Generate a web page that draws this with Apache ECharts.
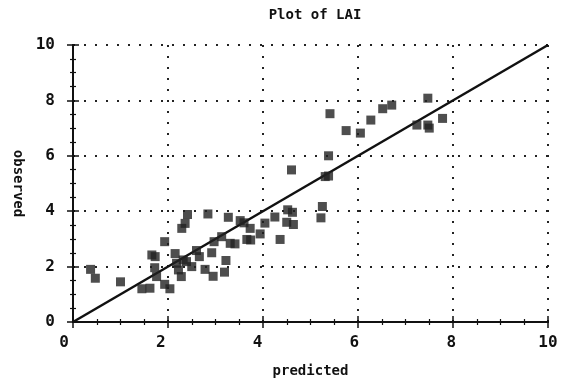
<!DOCTYPE html>
<html><head><meta charset="utf-8">
<script src="https://cdn.jsdelivr.net/npm/echarts@6/dist/echarts.min.js"></script>
<style>html,body{margin:0;padding:0;background:#fff}#c{width:565px;height:381px}</style>
</head><body><div id="c"></div>
<script>
const titleText = "Plot of LAI";
const xName = "predicted";
const yName = "observed";
const xTicks = [0, 2, 4, 6, 8, 10];
const yTicks = [0, 2, 4, 6, 8, 10];
const predicted = [0.37,0.47,1.00,1.45,1.62,1.66,1.73,1.72,1.76,1.93,1.93,2.04,2.15,2.18,2.22,2.28,2.29,2.36,2.41,2.32,2.39,2.50,2.60,2.66,2.78,2.84,2.92,2.95,2.97,3.13,3.22,3.19,3.27,3.31,3.41,3.52,3.60,3.66,3.73,3.74,3.94,4.04,4.25,4.36,4.52,4.62,4.50,4.64,4.60,5.22,5.25,5.31,5.38,5.38,5.41,5.75,6.05,6.27,6.52,6.71,7.24,7.47,7.47,7.50,7.78];
const observed  = [1.90,1.58,1.45,1.20,1.22,2.42,2.36,1.96,1.64,2.90,1.36,1.20,2.47,2.12,1.88,1.64,3.38,3.56,3.88,2.24,2.18,2.00,2.58,2.36,1.90,3.90,2.50,1.65,2.90,3.08,2.22,1.80,3.78,2.84,2.82,3.66,3.58,2.98,3.38,2.96,3.18,3.57,3.79,2.98,4.05,3.96,3.60,3.52,5.49,3.76,4.17,5.25,5.27,6.00,7.52,6.91,6.82,7.29,7.70,7.83,7.11,7.11,8.08,7.00,7.35];
const lineX = [0, 10];
const lineY = [0, 10];

const font = "'DejaVu Sans Mono', monospace";
const chart = echarts.init(document.getElementById('c'), null, {renderer:'canvas'});
const pts = predicted.map((x,i)=>[x, observed[i]]);
const axisCommon = {
  min: 0, max: 10, interval: 2,
  axisLine: {show:true, lineStyle:{color:'#111', width:2}},
  axisTick: {show:true, inside:true, length:6, lineStyle:{color:'#111', width:1.5}},
  minorTick: {show:true, splitNumber:4, length:3, lineStyle:{color:'#111', width:1.2}},
  splitLine: {show:false},
};
chart.setOption({
  animation:false,
  title:{text:titleText, left:310, top:3, textAlign:'center',
    textStyle:{fontFamily:font, fontWeight:'bold', fontSize:14, color:'#111'}},
  grid:[{left:73, right:17, top:45, bottom:59, containLabel:false, outerBoundsMode:'none'},
        {left:64, right:17, top:45, bottom:59, containLabel:false, outerBoundsMode:'none'}],
  xAxis:[
    Object.assign({}, axisCommon, {gridIndex:0, position:'bottom', type:'value',
      axisLabel:{show:false},
      splitLine:{show:true, lineStyle:{color:'#222', width:2, type:[2,9]}},
      name:xName, nameLocation:'middle', nameGap:42,
      nameTextStyle:{fontFamily:font, fontWeight:'bold', fontSize:14, color:'#111'}}),
    Object.assign({}, axisCommon, {gridIndex:0, position:'top', type:'value', axisLabel:{show:false}}),
    {gridIndex:1, type:'value', min:0, max:10, interval:2, position:'bottom',
      axisLine:{show:false}, axisTick:{show:false}, splitLine:{show:false},
      axisLabel:{show:true, margin:13, fontFamily:font, fontWeight:'bold', fontSize:16, color:'#111',
        formatter:v=>xTicks.includes(v)?String(v):''}}
  ],
  yAxis:[
    Object.assign({}, axisCommon, {gridIndex:0, position:'left', type:'value',
      axisLabel:{show:true, margin:18, fontFamily:font, fontWeight:'bold', fontSize:16, color:'#111',
        formatter:v=>yTicks.includes(v)?String(v):''},
      splitLine:{show:true, lineStyle:{color:'#222', width:2, type:[2,9]}},
      name:yName, nameLocation:'middle', nameGap:46, nameRotate:-90,
      nameTextStyle:{fontFamily:font, fontWeight:'bold', fontSize:14, color:'#111'}}),
    Object.assign({}, axisCommon, {gridIndex:0, position:'right', type:'value', axisLabel:{show:false}}),
    {gridIndex:1, type:'value', min:0, max:10, show:false}
  ],
  series:[
    {type:'line', xAxisIndex:0, yAxisIndex:0, data:lineX.map((x,i)=>[x,lineY[i]]),
      symbol:'none', lineStyle:{color:'#111', width:2.5}, z:3},
    {type:'scatter', xAxisIndex:0, yAxisIndex:0, data:pts, symbol:'rect', symbolSize:9,
      itemStyle:{color:'#222'}, z:4}
  ]
});
</script></body></html>
